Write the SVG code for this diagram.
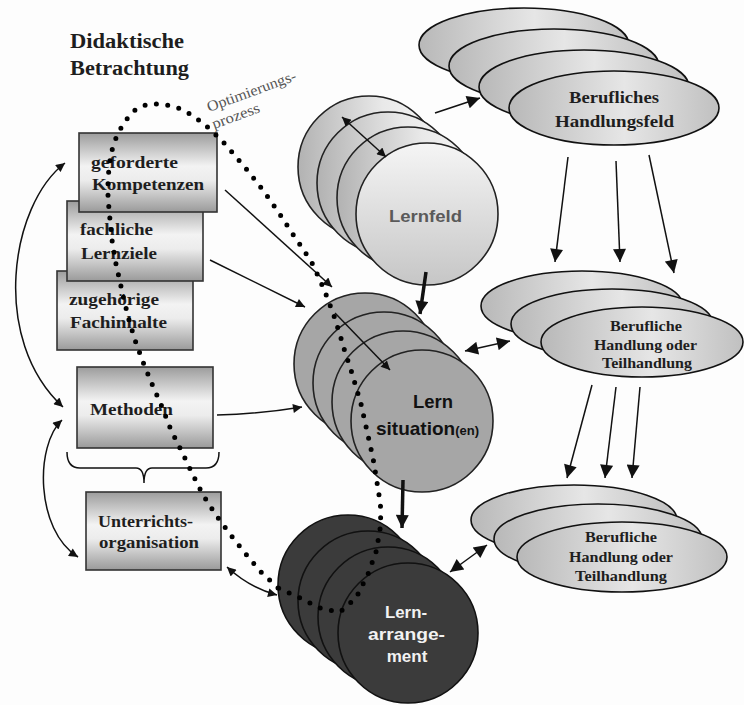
<svg xmlns="http://www.w3.org/2000/svg" width="744" height="705" viewBox="0 0 744 705">
<defs>
<style>
.ser{font-family:"Liberation Serif","Times New Roman",serif;font-weight:bold;fill:#1e1e1e}
.san{font-family:"Liberation Sans",Arial,sans-serif;font-weight:bold}
.box{fill:url(#gb);stroke:#333;stroke-width:1.6}
.ell{fill:url(#ge);stroke:#111;stroke-width:1.6}
.lf{fill:url(#gf);stroke:#222;stroke-width:1.6}
.ls{fill:#a6a6a6;stroke:#222;stroke-width:1.6}
.la{fill:#3b3b3b;stroke:#111;stroke-width:1.6}
.ln{fill:none;stroke:#111;stroke-width:1.5}
.th{fill:none;stroke:#111;stroke-width:3.5}
.dot{fill:none;stroke:#000;stroke-width:5;stroke-linecap:round;stroke-linejoin:round;stroke-dasharray:0 11.5}
</style>
<linearGradient id="gb" x1="0" y1="0" x2="0" y2="1">
<stop offset="0" stop-color="#9c9c9c"/><stop offset="0.42" stop-color="#f3f3f3"/><stop offset="0.6" stop-color="#ececec"/><stop offset="1" stop-color="#9a9a9a"/>
</linearGradient>
<linearGradient id="ge" x1="0" y1="0" x2="1" y2="0">
<stop offset="0" stop-color="#b8b8b8"/><stop offset="0.55" stop-color="#e6e6e6"/><stop offset="1" stop-color="#c0c0c0"/>
</linearGradient>
<linearGradient id="gf" x1="0" y1="0" x2="1" y2="0">
<stop offset="0" stop-color="#b2b2b2"/><stop offset="0.6" stop-color="#e9e9e9"/><stop offset="1" stop-color="#f6f6f6"/>
</linearGradient>
<linearGradient id="gf2" x1="0" y1="0" x2="0" y2="1">
<stop offset="0" stop-color="#f5f5f5"/><stop offset="1" stop-color="#c6c6c6"/>
</linearGradient>
<marker id="a" viewBox="0 0 10 10" refX="10" refY="5" markerWidth="11" markerHeight="9" markerUnits="userSpaceOnUse" orient="auto-start-reverse"><path d="M0,0 L10,5 L0,10 z" fill="#111"/></marker>
<marker id="aL" viewBox="0 0 10 10" refX="10" refY="5" markerWidth="15" markerHeight="13" markerUnits="userSpaceOnUse" orient="auto-start-reverse"><path d="M0,0 L10,5 L0,10 z" fill="#111"/></marker>
</defs>
<rect width="744" height="705" fill="#fdfdfd"/>

<text class="ser" x="70" y="48" font-size="20" textLength="114" lengthAdjust="spacingAndGlyphs">Didaktische</text>
<text class="ser" x="70" y="75" font-size="20" textLength="119" lengthAdjust="spacingAndGlyphs">Betrachtung</text>

<g id="handlungsfeld">
<ellipse class="ell" cx="524" cy="45" rx="105" ry="37"/>
<ellipse class="ell" cx="554" cy="66" rx="105" ry="37"/>
<ellipse class="ell" cx="584" cy="87" rx="105" ry="37"/>
<ellipse class="ell" cx="614" cy="108" rx="105" ry="37"/>
<text class="ser" x="569" y="103" font-size="16" textLength="90" lengthAdjust="spacingAndGlyphs">Berufliches</text>
<text class="ser" x="555" y="127" font-size="16" textLength="119" lengthAdjust="spacingAndGlyphs">Handlungsfeld</text>
</g>

<g id="handlung1">
<ellipse class="ell" cx="582" cy="306" rx="101" ry="35"/>
<ellipse class="ell" cx="612" cy="324" rx="101" ry="35"/>
<ellipse class="ell" cx="642" cy="342" rx="101" ry="35"/>
<text class="ser" x="610" y="331" font-size="14" textLength="72" lengthAdjust="spacingAndGlyphs">Berufliche</text>
<text class="ser" x="594" y="350" font-size="14" textLength="103" lengthAdjust="spacingAndGlyphs">Handlung oder</text>
<text class="ser" x="602" y="368" font-size="14" textLength="90" lengthAdjust="spacingAndGlyphs">Teilhandlung</text>
</g>

<g id="handlung2">
<ellipse class="ell" cx="574" cy="520" rx="103" ry="35"/>
<ellipse class="ell" cx="598" cy="539" rx="104" ry="35"/>
<ellipse class="ell" cx="622" cy="557" rx="105" ry="35"/>
<text class="ser" x="585" y="542" font-size="14" textLength="72" lengthAdjust="spacingAndGlyphs">Berufliche</text>
<text class="ser" x="569" y="562" font-size="14" textLength="104" lengthAdjust="spacingAndGlyphs">Handlung oder</text>
<text class="ser" x="575" y="581" font-size="14" textLength="92" lengthAdjust="spacingAndGlyphs">Teilhandlung</text>
</g>

<g id="lernfeld">
<circle class="lf" cx="369" cy="167" r="71"/>
<circle class="lf" cx="388" cy="183" r="71"/>
<circle class="lf" cx="408" cy="198" r="71"/>
<circle cx="427" cy="214" r="71" fill="url(#gf2)" stroke="#222" stroke-width="1.6"/>
<text class="san" x="389" y="222" font-size="17" fill="#5a5a5a" textLength="73" lengthAdjust="spacingAndGlyphs">Lernfeld</text>
</g>

<g id="lernsituation">
<circle class="ls" cx="365" cy="364" r="71"/>
<circle class="ls" cx="384" cy="383" r="71"/>
<circle class="ls" cx="403" cy="402" r="71"/>
<circle class="ls" cx="422" cy="421" r="71" fill="#aaaaaa"/>
<text class="san" x="413" y="408" font-size="19" fill="#111" textLength="40" lengthAdjust="spacingAndGlyphs">Lern</text>
<text class="san" x="376" y="435" font-size="19" fill="#111">situation<tspan font-size="13">(en)</tspan></text>
</g>

<g id="lernarrangement">
<circle class="la" cx="348" cy="585" r="70"/>
<circle class="la" cx="368" cy="601" r="70"/>
<circle class="la" cx="388" cy="617" r="70"/>
<circle class="la" cx="408" cy="633" r="70"/>
<text class="san" x="385" y="618" font-size="17" fill="#f2f2f2" textLength="42" lengthAdjust="spacingAndGlyphs">Lern-</text>
<text class="san" x="368" y="640" font-size="17" fill="#f2f2f2" textLength="77" lengthAdjust="spacingAndGlyphs">arrange-</text>
<text class="san" x="407" y="662" font-size="17" fill="#f2f2f2" text-anchor="middle">ment</text>
</g>

<g id="kompetenzen">
<rect class="box" x="57" y="271" width="136" height="79"/>
<rect class="box" x="67" y="201" width="136" height="80"/>
<rect class="box" x="79" y="133" width="138" height="79"/>
<text class="ser" x="91" y="168" font-size="17" textLength="87" lengthAdjust="spacingAndGlyphs">geforderte</text>
<text class="ser" x="92" y="190" font-size="17" textLength="112" lengthAdjust="spacingAndGlyphs">Kompetenzen</text>
</g>
<g id="lernziele">
<text class="ser" x="80" y="235" font-size="17" textLength="73" lengthAdjust="spacingAndGlyphs">fachliche</text>
<text class="ser" x="81" y="259" font-size="17" textLength="76" lengthAdjust="spacingAndGlyphs">Lernziele</text>
</g>
<g id="fachinhalte">
<text class="ser" x="69" y="305" font-size="17" textLength="90" lengthAdjust="spacingAndGlyphs">zugehörige</text>
<text class="ser" x="70" y="328" font-size="17" textLength="97" lengthAdjust="spacingAndGlyphs">Fachinhalte</text>
</g>
<g id="methoden">
<rect class="box" x="77" y="367" width="136" height="81"/>
<text class="ser" x="90" y="415" font-size="17" textLength="83" lengthAdjust="spacingAndGlyphs">Methoden</text>
</g>
<g id="organisation">
<rect class="box" x="86" y="492" width="135" height="78"/>
<text class="ser" x="98" y="527" font-size="17" textLength="95" lengthAdjust="spacingAndGlyphs">Unterrichts-</text>
<text class="ser" x="99" y="548" font-size="17" textLength="100" lengthAdjust="spacingAndGlyphs">organisation</text>
</g>

<g id="connectors">
<path class="ln" d="M67,452 Q67,468 80,468 L136,468 Q144,468 144,483 Q144,468 152,468 L206,468 Q219,468 219,452"/>
<path class="ln" d="M65,163 C10,205 -10,340 63,407" marker-start="url(#a)" marker-end="url(#a)"/>
<path class="ln" d="M62,420 C35,445 35,530 78,557" marker-start="url(#a)" marker-end="url(#a)"/>
<path class="ln" d="M225,190 L332,287" marker-end="url(#a)"/>
<path class="ln" d="M210,260 L305,307" marker-end="url(#a)"/>
<path class="ln" d="M217,415 Q260,414 302,407" marker-end="url(#a)"/>
<path class="ln" d="M227,567 Q250,588 277,595" marker-start="url(#a)" marker-end="url(#a)"/>
<path class="ln" d="M342,117 L386,157" marker-start="url(#a)" marker-end="url(#a)"/>
<path class="ln" d="M335,313 L390,370" marker-end="url(#a)"/>
<path class="ln" d="M435,113 L480,98" marker-end="url(#aL)"/>
<path class="th" d="M426,272 L420,314" marker-end="url(#aL)"/>
<path class="th" d="M403,480 L402,528" marker-end="url(#aL)"/>
<path class="ln" d="M568,157 L555,262" marker-end="url(#aL)"/>
<path class="ln" d="M616,161 L620,262" marker-end="url(#aL)"/>
<path class="ln" d="M649,155 L674,273" marker-end="url(#aL)"/>
<path class="ln" d="M465,351 L510,341" stroke-width="2" marker-start="url(#aL)" marker-end="url(#aL)"/>
<path class="ln" d="M592,385 L567,478" marker-end="url(#aL)"/>
<path class="ln" d="M616,387 L605,478" marker-end="url(#aL)"/>
<path class="ln" d="M640,387 L632,478" marker-end="url(#aL)"/>
<path class="ln" d="M450,572 L487,545" stroke-width="2" marker-start="url(#aL)" marker-end="url(#aL)"/>
</g>

<g id="optimierung">
<path class="dot" d="M278,588 L261,572 L245,553 L230,534 L216,515 L203,495 L192,473 L182,452 L171,430 L162,407 L152,384 L143,362 L135,340 L129,320 L124,300 L120,282 L116,264 L112,240 L110,220 L108,198 L108,178 L110,160 L113,146 L118,133 L126,120 L136,109 L148,104 L162,104 L176,107 L190,114 L203,123 L215,134 L226,145 L237,158 L248,171 L259,185 L270,200 L281,216 L292,233 L303,249 L312,263 L320,280 L327,297 L334,316 L340,335 L345,352 L351,370 L356,387 L361,404 L365,422 L369,440 L373,458 L376,476 L379,495 L381,510 L380,530 L376,552 L368,574 L356,598 L340,612 L322,609 L300,598 L278,588"/>
<text x="0" y="0" transform="translate(209,112) rotate(-20)" font-family="Liberation Serif,'Times New Roman',serif" font-size="15" fill="#555" textLength="94" lengthAdjust="spacingAndGlyphs">Optimierungs-</text>
<text x="0" y="0" transform="translate(214,129) rotate(-20)" font-family="Liberation Serif,'Times New Roman',serif" font-size="15" fill="#555" textLength="50" lengthAdjust="spacingAndGlyphs">prozess</text>
</g>
</svg>
